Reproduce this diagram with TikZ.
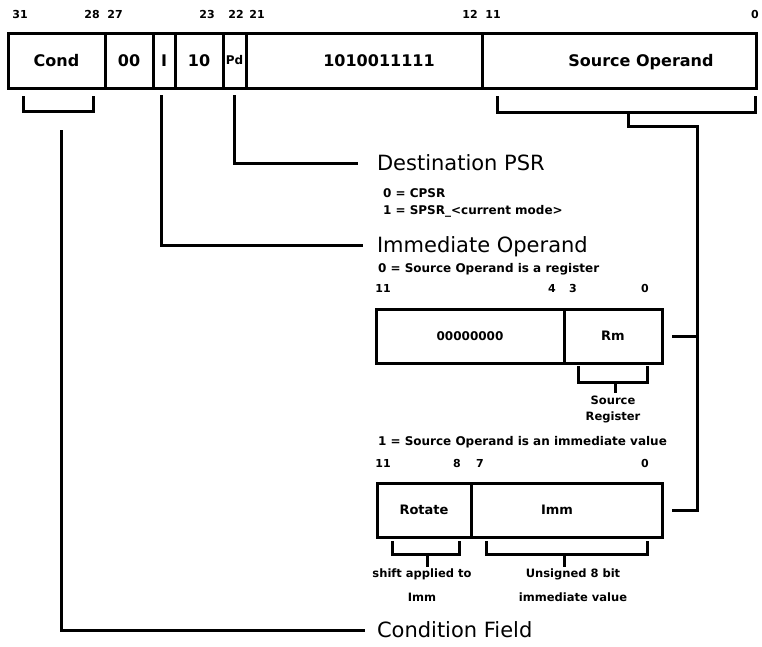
\documentclass[tikz,border=0pt]{standalone}
\usepackage{fontspec}
\setmainfont{DejaVu Sans}
\begin{document}
\begin{tikzpicture}[x=1pt,y=-1pt,
  line width=3pt,
  every node/.style={inner sep=0pt, outer sep=0pt},
  field/.style={draw, line width=3pt, minimum height=55pt, text height=11.7pt, text depth=0pt, font=\bfseries\fontsize{16}{16}\selectfont},
  subfield/.style={draw, line width=3pt, minimum height=54pt, text height=9.5pt, text depth=0pt, font=\bfseries\fontsize{13}{13}\selectfont},
  bitno/.style={font=\bfseries\fontsize{11}{11}\selectfont},
  heading/.style={anchor=west, font=\fontsize{21}{21}\selectfont, text height=15pt, text depth=0pt},
  note/.style={anchor=west, font=\bfseries\fontsize{12}{12}\selectfont},
  caption/.style={align=center},
  wire/.style={line width=3pt}
]
\useasboundingbox (0,0) rectangle (762,646);

% ---- instruction word ----
\node[field, minimum width=97pt]  (cond)  at (56.5,60.5) {Cond};
\node[field, minimum width=48pt]  (zz)    at (129,60.5)  {00};
\node[field, minimum width=22pt]  (ibit)  at (164,60.5)  {I};
\node[field, minimum width=48pt]  (ten)   at (199,60.5)  {10};
\node[field, minimum width=23pt, text height=8.8pt, font=\bfseries\fontsize{12}{12}\selectfont] (pd) at (234.5,60.5) {Pd};
\node[field, minimum width=236pt] (fixed) at (364,60.5)  {\hspace*{30pt}1010011111};
\node[field, minimum width=274pt] (src)   at (619,60.5)  {\hspace*{44pt}Source Operand};

% bit positions
\node[bitno] (b31) at (20,14)  {31};
\node[bitno] (b28) at (92,14)  {28};
\node[bitno] (b27) at (115,14) {27};
\node[bitno] (b23) at (207,14) {23};
\node[bitno] (b22) at (236,14) {22};
\node[bitno] (b21) at (257,14) {21};
\node[bitno] (b12) at (470,14) {12};
\node[bitno] (b11) at (493,14) {11};
\node[bitno] (b0)  at (755,14) {0};

% ---- headings and notes ----
\node[heading] (dest)  at (377,163) {Destination PSR};
\node[note]    (cpsr)  at (383,193) {0 = CPSR};
\node[note]    (spsr)  at (383,211) {1 = SPSR\_<current mode>};
\node[heading] (immop) at (377,245) {Immediate Operand};
\node[note]    (isreg) at (378,269) {0 = Source Operand is a register};
\node[heading] (condf) at (377,630) {Condition Field};

% ---- register form of the operand ----
\node[bitno] (r11) at (383,288) {11};
\node[bitno] (r4)  at (552,288) {4};
\node[bitno] (r3)  at (573,288) {3};
\node[bitno] (r0)  at (645,288) {0};
\node[subfield, minimum width=188pt, text height=8.8pt, font=\bfseries\fontsize{12}{12}\selectfont] (zeros) at (470,336) {00000000};
\node[subfield, minimum width=98pt] (rm) at (613,336) {Rm};
\node[caption, font=\bfseries\fontsize{11.5}{16}\selectfont] (srcreg) at (613,409) {Source\\Register};

% ---- immediate form of the operand ----
\node[note] (isimm) at (378,442) {1 = Source Operand is an immediate value};
\node[bitno] (i11) at (383,463) {11};
\node[bitno] (i8)  at (457,463) {8};
\node[bitno] (i7)  at (480,463) {7};
\node[bitno] (i0)  at (645,463) {0};
\node[subfield, minimum width=94pt]  (rot) at (424,510)   {Rotate};
\node[subfield, minimum width=191pt] (imm) at (566.5,510) {Imm\hspace*{19pt}};
\node[caption, font=\bfseries\fontsize{11.5}{24}\selectfont] (shiftlab) at (422,585) {shift applied to\\Imm};
\node[caption, font=\bfseries\fontsize{11.5}{24}\selectfont] (unsig)    at (573,585) {Unsigned 8 bit\\immediate value};

% ---- bracket and stem end points ----
\coordinate (cbl)    at (23,96);
\coordinate (cbr)    at (93,111);
\coordinate (condst) at (61,130);
\coordinate (itop)   at (161,95);
\coordinate (pdtop)  at (234,95);
\coordinate (sbl)    at (497,96);
\coordinate (sbr)    at (755,112);
\coordinate (sbmid)  at (628,112);
\coordinate (bustop) at (697,126);
\coordinate (rbl)    at (578,366);
\coordinate (rbr)    at (647,382);
\coordinate (rbmid)  at (615,382);
\coordinate (tbl)    at (392,541);
\coordinate (tbr)    at (459,554);
\coordinate (tbmid)  at (427,554);
\coordinate (ubl)    at (486,541);
\coordinate (ubr)    at (647,554);
\coordinate (ubmid)  at (564,554);

% brackets under the fields
\draw[wire] (cbl) |- (cbr) -- (cbr |- cbl);
\draw[wire] (sbl) |- (sbr) -- (sbr |- sbl);
\draw[wire] (rbl) |- (rbr) -- (rbr |- rbl);
\draw[wire] (tbl) |- (tbr) -- (tbr |- tbl);
\draw[wire] (ubl) |- (ubr) -- (ubr |- ubl);

% leaders to the headings
\draw[wire] (pdtop)  |- ([xshift=-19pt]dest.west);
\draw[wire] (itop)   |- ([xshift=-14pt]immop.west);
\draw[wire] (condst) |- ([xshift=-12pt]condf.west);

% source operand bus to both operand forms
\draw[wire] (sbmid) |- (bustop) |- ([xshift=10pt]imm.east);
\draw[wire] (rm.east -| bustop) -- ([xshift=10pt]rm.east);

% stems from the small brackets to their captions
\draw[wire] (rbmid) -- ([yshift=-11pt]rbmid);
\draw[wire] (tbmid) -- ([yshift=-13pt]tbmid);
\draw[wire] (ubmid) -- ([yshift=-13pt]ubmid);
\end{tikzpicture}
\end{document}
